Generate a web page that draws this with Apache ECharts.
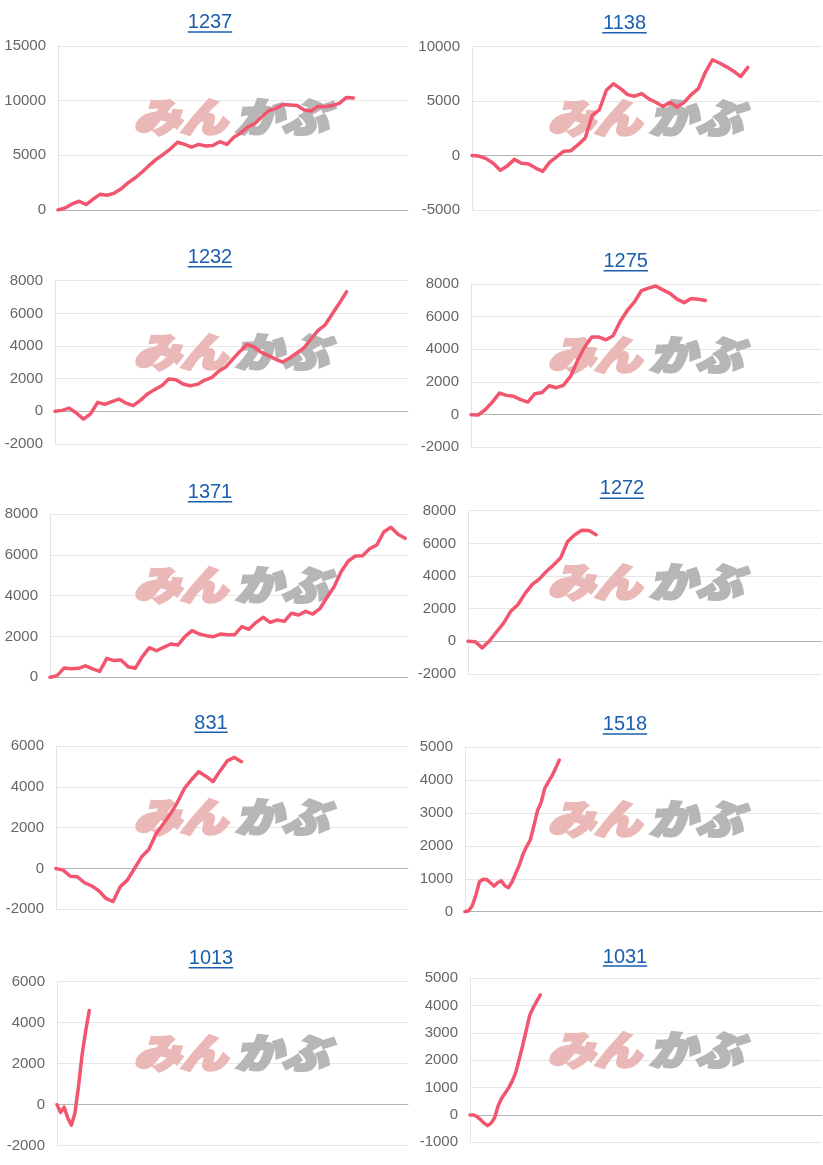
<!DOCTYPE html>
<html>
<head>
<meta charset="utf-8">
<script src="https://cdn.jsdelivr.net/npm/echarts@6/dist/echarts.min.js"></script>
<style>
html,body{margin:0;padding:0;background:#fff;}
#c{width:823px;height:1165px;}
</style>
</head>
<body>
<div id="c"></div>
<script>
// ---- data ----
const titles = ['1237', '1138', '1232', '1275', '1371', '1272', '831', '1518', '1013', '1031'];

const s1237 = [0,180,550,800,500,1000,1450,1350,1550,1950,2500,2950,3500,4100,4650,5100,5600,6200,6000,5750,6000,5850,5900,6250,6000,6650,7050,7600,7900,8550,9100,9300,9650,9600,9550,9150,9050,9500,9450,9550,9750,10300,10250];
const s1138 = [0,-50,-280,-700,-1350,-950,-350,-700,-770,-1150,-1450,-600,-100,400,450,1000,1600,3700,4200,6000,6600,6150,5600,5450,5700,5200,4900,4500,4900,4450,4900,5600,6150,7650,8800,8500,8150,7750,7250,8100];
const s1232 = [0,60,200,-100,-480,-150,550,430,600,750,500,350,670,1060,1330,1570,1980,1940,1670,1570,1650,1900,2060,2450,2710,3200,3670,4100,3940,3610,3410,3200,3020,3270,3570,3880,4430,4960,5300,5980,6630,7320];
const s1275 = [0,-20,300,770,1320,1180,1120,920,770,1280,1360,1770,1650,1790,2340,3320,4140,4750,4750,4580,4830,5700,6380,6900,7600,7750,7880,7640,7430,7070,6860,7110,7070,6990];
const s1371 = [0,80,460,420,440,560,410,290,930,820,850,520,440,1010,1450,1300,1470,1630,1580,1990,2290,2120,2040,1990,2120,2090,2090,2480,2350,2680,2940,2690,2810,2740,3140,3050,3230,3100,3360,3920,4440,5180,5700,5940,5960,6300,6480,7120,7350,7010,6810];
const s1272 = [0,-20,-400,20,570,1120,1840,2240,2920,3470,3810,4280,4670,5100,6120,6530,6810,6790,6530];
const s831  = [0,-80,-380,-410,-700,-850,-1090,-1470,-1620,-900,-570,0,570,930,1680,2170,2660,3230,3920,4360,4740,4520,4250,4780,5270,5440,5230];
const s1518 = [0,30,180,510,910,990,980,880,780,880,940,790,730,910,1170,1420,1750,1980,2180,2610,3070,3320,3750,3950,4130,4360,4610];
const s1013 = [0,-380,-120,-650,-1000,-400,900,2450,3600,4600];
const s1031 = [0,0,-60,-170,-300,-390,-300,-100,340,610,800,1000,1240,1560,2050,2560,3110,3660,3930,4170,4390];
const seriesValues = [s1237, s1138, s1232, s1275, s1371, s1272, s831, s1518, s1013, s1031];

// how far along the shared 0..100 x range each series runs
const xEnds = [84.4, 78.8, 82.6, 66.8, 99.2, 36.2, 52.7, 26.4, 9.2, 20.0];
const xMax = 100;

// y axis ticks
const yMins  = [0, -5000, -2000, -2000, 0, -2000, -2000, 0, -2000, -1000];
const yMaxs  = [15000, 10000, 8000, 8000, 8000, 8000, 6000, 5000, 6000, 5000];
const ySteps = [5000, 5000, 2000, 2000, 2000, 2000, 2000, 1000, 2000, 1000];

// ---- layout (px) ----
const gridLeft   = [58, 472, 55, 471, 50, 468, 56, 465, 57, 470];
const gridTop    = [46, 46.7, 280.7, 284, 514, 510.7, 746, 747.3, 981.7, 978.3];
const gridHeight = [164, 163.3, 163.3, 163.3, 163.3, 163.3, 163.3, 164.4, 164, 164];
const colRight   = [408, 822];
const titleX     = [210, 624.5, 210, 625.7, 210, 622, 211, 625, 211, 625];
const titleY     = [22.7, 23.7, 257.5, 261, 492, 488.8, 723, 724.7, 958.8, 957];
const underY     = [32, 32.7, 266.7, 270.7, 501.7, 498.3, 732.3, 734, 967.7, 966];
const wmX        = [231, 645];

const W = 823, H = 1165;
const FONT = '"Liberation Sans", Arial, Helvetica, sans-serif';
const LINK = '#1a5fad';
const LINE = '#f2566f';

const grids = [], xAxes = [], yAxes = [], series = [], graphics = [];

titles.forEach((t, i) => {
  const col = i % 2;
  const left = gridLeft[i];
  const width = colRight[col] - left;
  grids.push({
    left: left, top: gridTop[i], width: width, height: gridHeight[i],
    containLabel: false, outerBoundsMode: 'none'
  });
  xAxes.push({
    type: 'value', gridIndex: i, min: 0, max: xMax,
    axisLine: { show: true, onZero: true, lineStyle: { color: '#b4b4b4', width: 1 } },
    axisTick: { show: false }, axisLabel: { show: false }, splitLine: { show: false }
  });
  yAxes.push({
    type: 'value', gridIndex: i, min: yMins[i], max: yMaxs[i], interval: ySteps[i],
    axisLine: { show: true, lineStyle: { color: '#e4e4e4', width: 1 } },
    axisTick: { show: false },
    axisLabel: {
      color: '#666666', fontSize: 15, fontFamily: FONT, margin: 12,
      formatter: v => String(v)
    },
    splitLine: { show: true, lineStyle: { color: '#e6e6e6', width: 1 } }
  });
  const vals = seriesValues[i];
  const n = vals.length;
  const pts = vals.map((v, k) => [+(k * xEnds[i] / (n - 1)).toFixed(3), v]);
  series.push({
    type: 'line', xAxisIndex: i, yAxisIndex: i, data: pts,
    showSymbol: false, symbol: 'none', smooth: false, silent: true,
    lineStyle: { color: LINE, width: 3.5, join: 'round', cap: 'round' },
    z: 3
  });

  // title (link style)
  const tw = t.length * 0.556 * 20;
  graphics.push({
    type: 'text', x: titleX[i], y: titleY[i], z: 5,
    style: {
      text: t, fill: LINK, font: '20px ' + FONT,
      textAlign: 'center', textVerticalAlign: 'middle', align: 'center', verticalAlign: 'middle'
    }
  });
  graphics.push({
    type: 'rect', z: 5,
    shape: { x: titleX[i] - tw / 2, y: underY[i] - 0.75, width: tw, height: 1.5 },
    style: { fill: LINK }
  });

  // watermark logo
  const cx = wmX[col];
  const cy = gridTop[i] + gridHeight[i] / 2 - 11;
  const wmFont = 'italic 900 40px "Noto Sans CJK JP", sans-serif';
  graphics.push({
    type: 'text', x: cx - 4, y: cy, z: 1, scaleX: 1.17, originX: 0, originY: 0,
    style: {
      text: 'みん', fill: '#ebb8b8', stroke: '#ebb8b8', lineWidth: 3, font: wmFont,
      textAlign: 'right', textVerticalAlign: 'middle', align: 'right', verticalAlign: 'middle'
    }
  });
  graphics.push({
    type: 'text', x: cx + 4, y: cy, z: 1, scaleX: 1.17, originX: 0, originY: 0,
    style: {
      text: 'かぶ', fill: '#b6b6b6', stroke: '#b6b6b6', lineWidth: 3, font: wmFont,
      textAlign: 'left', textVerticalAlign: 'middle', align: 'left', verticalAlign: 'middle'
    }
  });
});

const chart = echarts.init(document.getElementById('c'), null, { renderer: 'canvas', width: W, height: H });
chart.setOption({
  animation: false,
  backgroundColor: '#ffffff',
  grid: grids,
  xAxis: xAxes,
  yAxis: yAxes,
  series: series,
  graphic: { elements: graphics }
});
</script>
</body>
</html>
